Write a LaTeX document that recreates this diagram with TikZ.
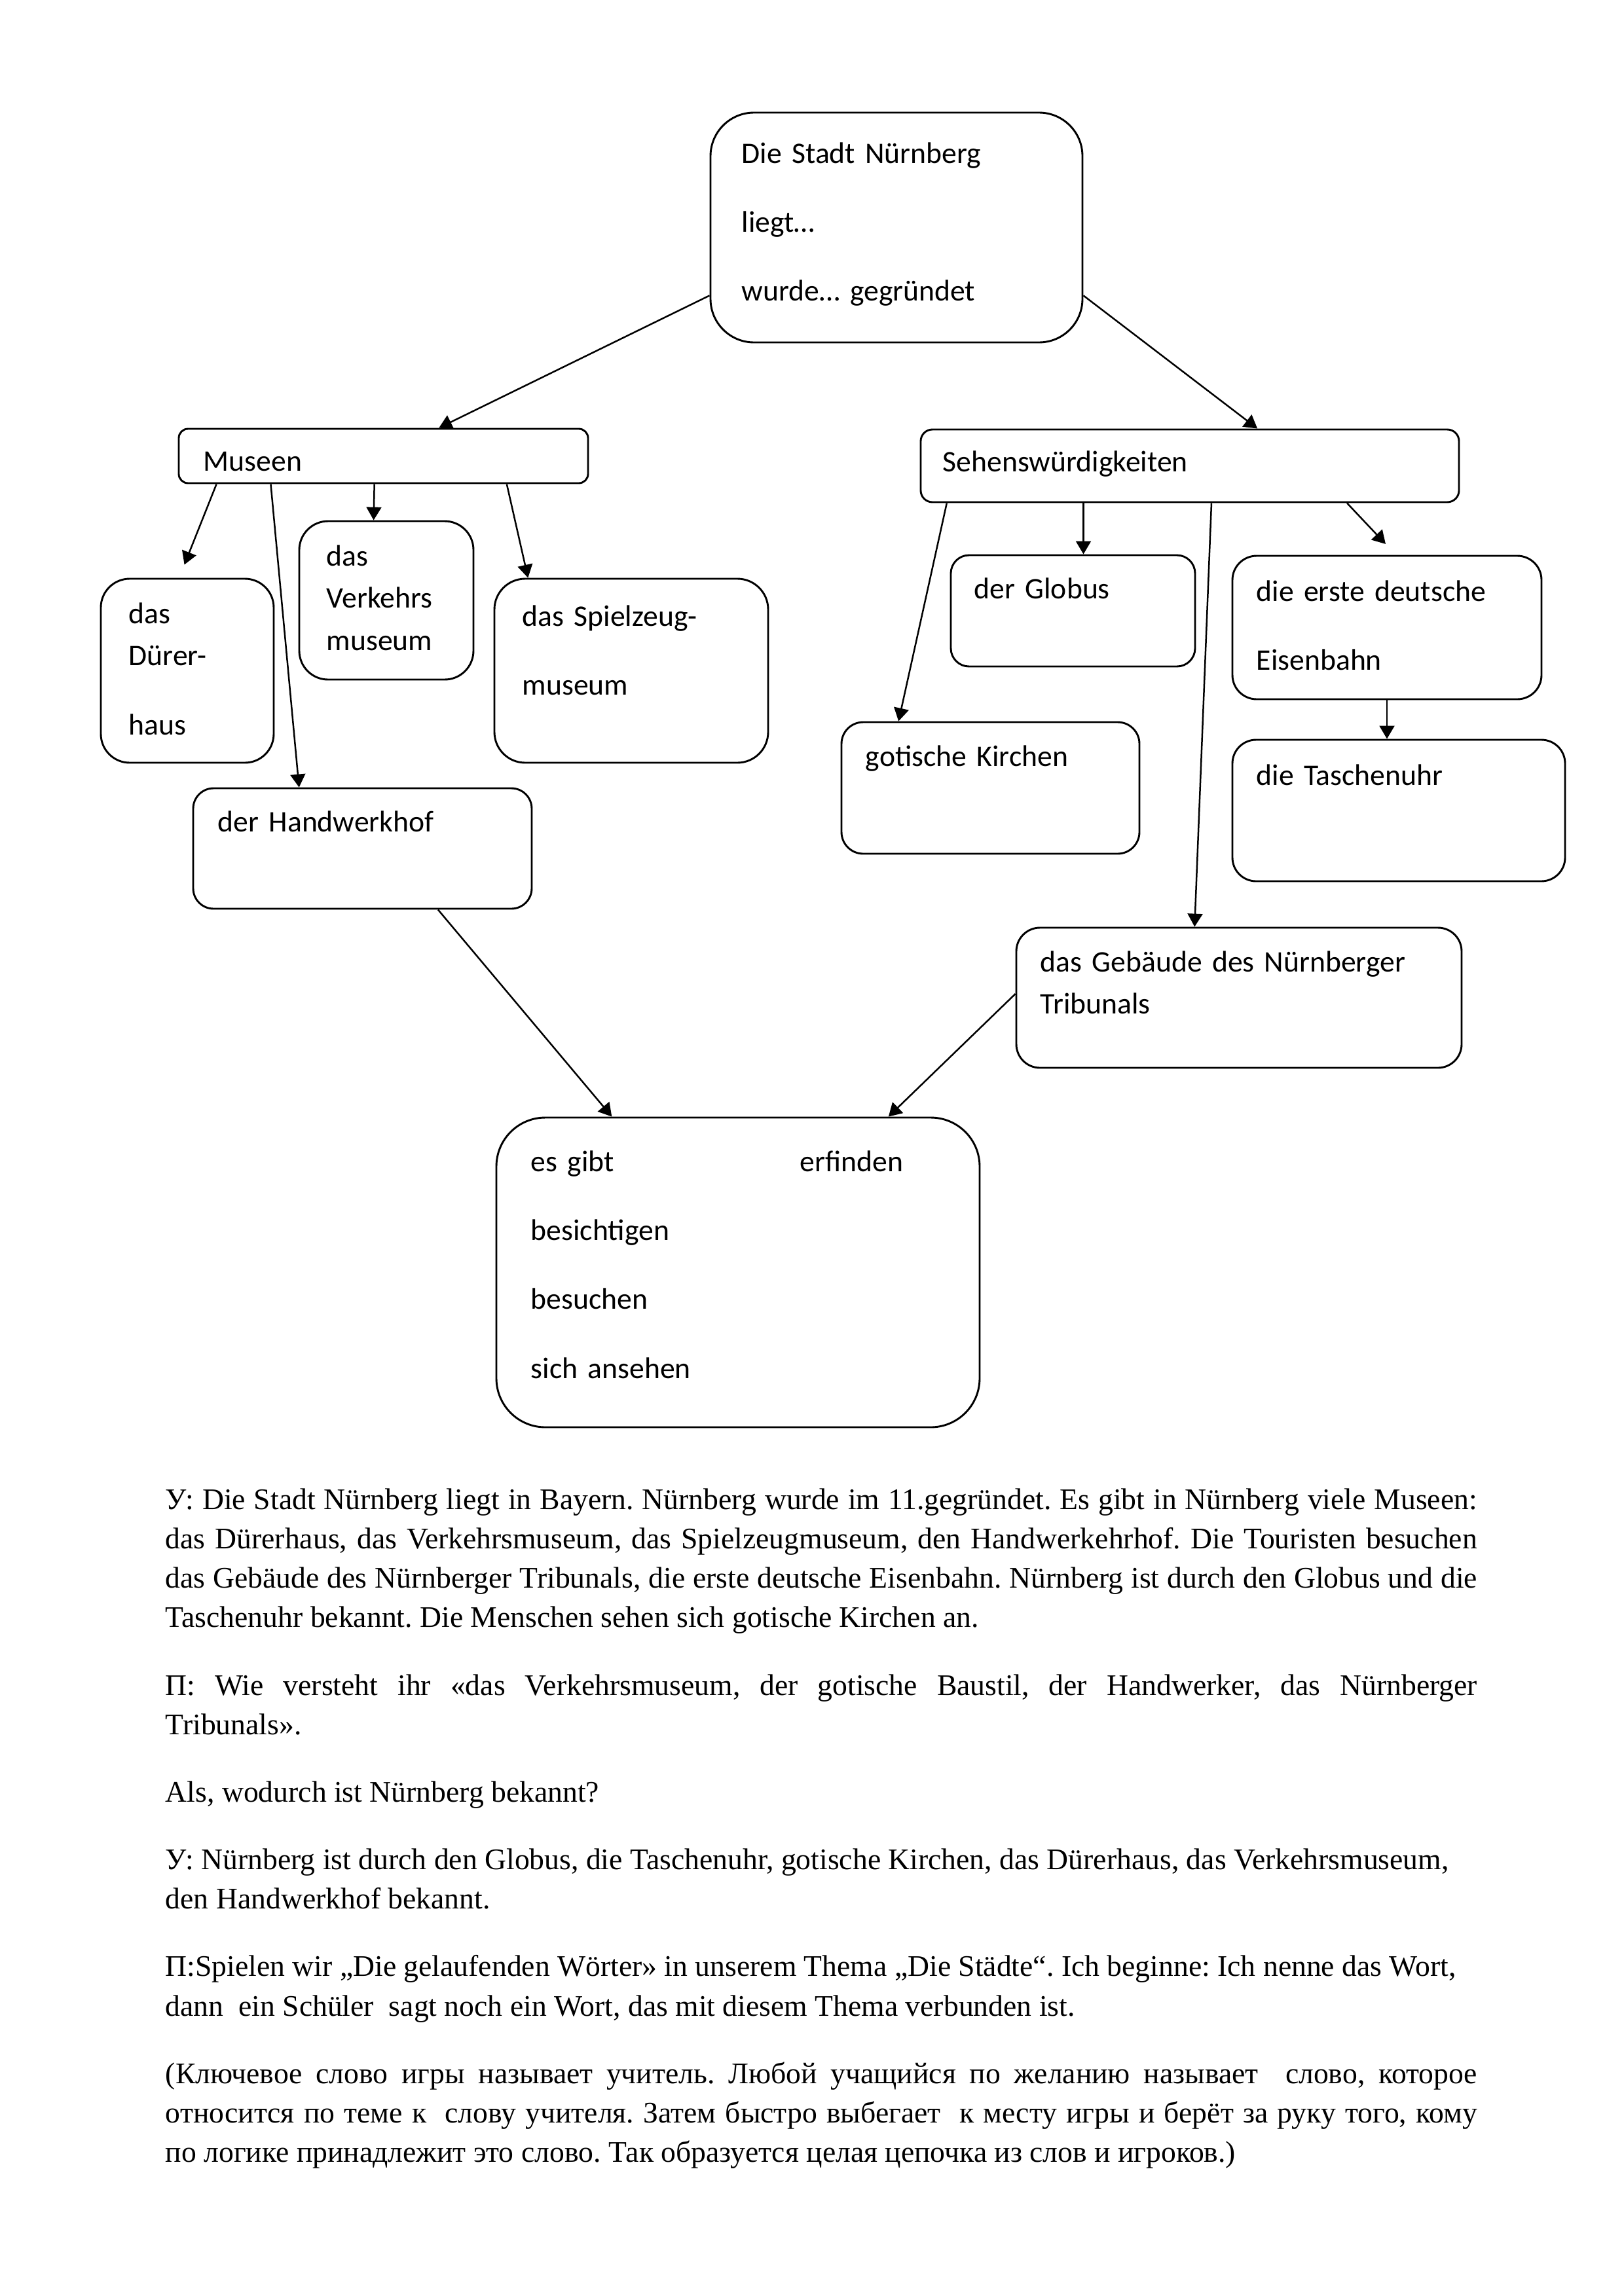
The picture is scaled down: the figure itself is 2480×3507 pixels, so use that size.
\documentclass[tikz,border=0pt]{standalone}
\usepackage{fontspec}
\setmainfont{Liberation Serif}
\newfontfamily\kastenfont{Carlito}
\usetikzlibrary{arrows.meta,fit,calc}

\tikzset{
  kasten/.style={draw, line width=0.7pt, inner sep=0pt, rounded corners=#1},
  wort/.style={anchor=base west, inner sep=0pt, text width=6cm, align=left,
    font=\kastenfont\fontsize{11}{15.6}\selectfont},
  weit/.style={wort, font=\kastenfont\fontsize{11}{25.4}\selectfont},
  pfeil/.style={-{Triangle[length=4.8pt,width=5.5pt]}, line width=0.6pt},
}

\begin{document}
\begin{tikzpicture}[x=0.0846667mm,y=-0.0846667mm]
  \path[fill=white,use as bounding box] (0,0) rectangle (2480,3507);

  % Kaesten
  \node[kasten=16pt, fit={(1085,172) (1653,523)}] (stadt) {};
  \node[kasten=3.4pt, fit={(273,655) (898,738)}] (museen) {};
  \node[kasten=4.3pt, fit={(1406,656) (2228,767)}] (sehens) {};
  \node[kasten=10.6pt, fit={(154,884) (418,1165)}] (duerer) {};
  \node[kasten=10.6pt, fit={(457,796) (723,1038)}] (verkehr) {};
  \node[kasten=11.3pt, fit={(755,884) (1173,1165)}] (spiel) {};
  \node[kasten=6.7pt, fit={(1452,848) (1825,1018)}] (globus) {};
  \node[kasten=8.9pt, fit={(1882,849) (2354,1068)}] (erste) {};
  \node[kasten=8pt, fit={(1285,1103) (1740,1304)}] (gotik) {};
  \node[kasten=8.7pt, fit={(1882,1130) (2390,1346)}] (uhr) {};
  \node[kasten=7.5pt, fit={(295,1204) (812,1388)}] (hof) {};
  \node[kasten=8.7pt, fit={(1552,1417) (2232,1631)}] (tribunal) {};
  \node[kasten=18pt, fit={(758,1707) (1496,2180)}] (verben) {};

  % Texte in den Kaesten
  \node[weit] (stadt-t) at (1132,249) {Die Stadt Nürnberg\\liegt…\\wurde… gegründet};
  \node[wort] (museen-t) at (310,719) {Museen};
  \node[wort] (sehens-t) at (1439,720) {Sehenswürdigkeiten};
  \node[wort] (duerer-t) at (196,952) {das\\Dürer-\\[9.8pt]haus};
  \node[wort] (verkehr-t) at (498,864) {das\\Verkehrs\\museum};
  \node[weit] (spiel-t) at (797,956) {das Spielzeug-\\museum};
  \node[wort] (globus-t) at (1487,914) {der Globus};
  \node[weit] (erste-t) at (1918,918) {die erste deutsche\\Eisenbahn};
  \node[wort] (gotik-t) at (1321,1170) {gotische Kirchen};
  \node[wort] (uhr-t) at (1918,1199) {die Taschenuhr};
  \node[wort] (hof-t) at (332,1270) {der Handwerkhof};
  \node[wort] (tribunal-t) at (1588,1484) {das Gebäude des Nürnberger\\Tribunals};
  \node[weit] (verben-t) at (810,1789) {es gibt\\besichtigen\\besuchen\\sich ansehen};
  \node[wort] (erfinden-t) at (1221,1789) {erfinden};

  % Pfeile
  \draw[pfeil] (stadt.200) -- ($(museen.north west)!0.635!(museen.north east)$);
  \draw[pfeil] (stadt.340) -- ($(sehens.north west)!0.625!(sehens.north east)$);
  \draw[pfeil, shorten >=5.2pt] ($(museen.south west)!0.094!(museen.south east)$) -- (duerer.95.7);
  \draw[pfeil] ($(museen.south west)!0.226!(museen.south east)$) -- (hof.136.4);
  \draw[pfeil] ($(museen.south west)!0.478!(museen.south east)$) -- (verkehr.99.8);
  \draw[pfeil] ($(museen.south west)!0.8!(museen.south east)$) -- (spiel.138.4);
  \draw[pfeil] ($(sehens.south west)!0.05!(sehens.south east)$) -- (gotik.144.4);
  \draw[pfeil] ($(sehens.south west)!0.303!(sehens.south east)$) coordinate (g)
    -- (g |- globus.north);
  \draw[pfeil] ($(sehens.south west)!0.54!(sehens.south east)$) -- (tribunal.122.1);
  \draw[pfeil, shorten >=5.5pt] ($(sehens.south west)!0.791!(sehens.south east)$) -- (erste.83.7);
  \draw[pfeil] (erste.south) -- (erste.south |- uhr.north);
  \draw[pfeil] (hof.321) -- (verben.129.8);
  \draw[pfeil] (tribunal.179) -- (verben.46.4);

  % Text unter dem Schema
  \node[anchor=base west, inner sep=0pt, text width=169.6mm, align=justify,
    font=\fontsize{11}{14.53}\selectfont] (stunde) at (252,2305) {%
    \frenchspacing\setlength{\parskip}{10.3pt}%
    У: Die Stadt Nürnberg liegt in Bayern. Nürnberg wurde im 11.gegründet. Es gibt in Nürnberg viele Museen:\linebreak
    das Dürerhaus, das Verkehrsmuseum, das Spielzeugmuseum, den Handwerkehrhof. Die Touristen besuchen\linebreak
    das Gebäude des Nürnberger Tribunals, die erste deutsche Eisenbahn. Nürnberg ist durch den Globus und die\linebreak
    Taschenuhr bekannt. Die Menschen sehen sich gotische Kirchen an.\par
    П: Wie versteht ihr «das Verkehrsmuseum, der gotische Baustil, der Handwerker, das Nürnberger\linebreak
    Tribunals».\par
    Als, wodurch ist Nürnberg bekannt?\par
    У: Nürnberg ist durch den Globus, die Taschenuhr, gotische Kirchen, das Dürerhaus, das Verkehrsmuseum,\newline
    den Handwerkhof bekannt.\par
    П:Spielen wir „Die gelaufenden Wörter» in unserem Thema „Die Städte“. Ich beginne: Ich nenne das Wort,\newline
    dann \ ein Schüler \ sagt noch ein Wort, das mit diesem Thema verbunden ist.\par
    (Ключевое слово игры называет учитель. Любой учащийся по желанию называет \ слово, которое\linebreak
    относится по теме к \ слову учителя. Затем быстро выбегает \ к месту игры и берёт за руку того, кому\linebreak
    по логике принадлежит это слово. Так образуется целая цепочка из слов и игроков.)};
\end{tikzpicture}
\end{document}
